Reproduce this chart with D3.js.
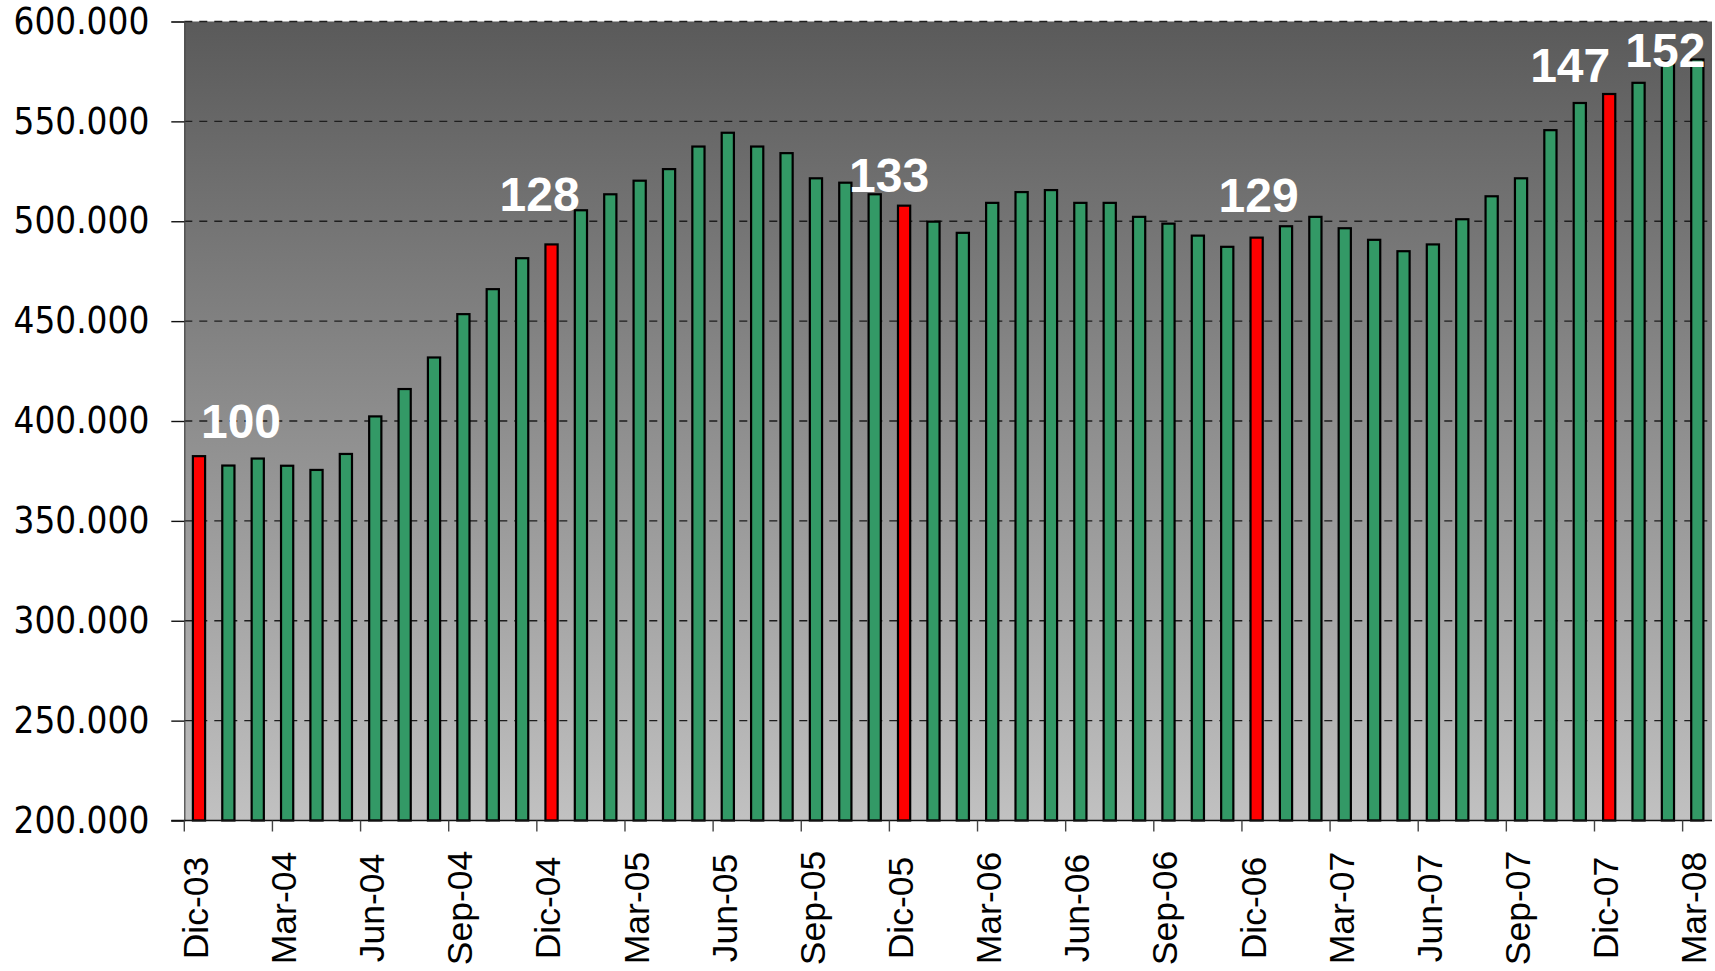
<!DOCTYPE html>
<html>
<head>
<meta charset="utf-8">
<script src="https://cdn.jsdelivr.net/npm/d3@7"></script>
<style>
  html, body { margin: 0; padding: 0; background: #ffffff; }
  svg { display: block; }
</style>
</head>
<body>
<svg id="chart" width="1715" height="971"></svg>
<script>
// Monthly series, Dic-03 .. Mar-08
const months = [
  "Dic-03",
  "Ene-04","Feb-04","Mar-04","Abr-04","May-04","Jun-04","Jul-04","Ago-04","Sep-04","Oct-04","Nov-04","Dic-04",
  "Ene-05","Feb-05","Mar-05","Abr-05","May-05","Jun-05","Jul-05","Ago-05","Sep-05","Oct-05","Nov-05","Dic-05",
  "Ene-06","Feb-06","Mar-06","Abr-06","May-06","Jun-06","Jul-06","Ago-06","Sep-06","Oct-06","Nov-06","Dic-06",
  "Ene-07","Feb-07","Mar-07","Abr-07","May-07","Jun-07","Jul-07","Ago-07","Sep-07","Oct-07","Nov-07","Dic-07",
  "Ene-08","Feb-08","Mar-08"
];

const values = [
  382400,
  377700, 381200, 377600, 375500, 383500, 402300, 416000, 431800, 453500, 466000, 481500, 488400,
  505500, 513500, 520300, 526100, 537400, 544300, 537400, 534100, 521500, 519300, 513500, 507800,
  499800, 494200, 509200, 514600, 515600, 509200, 509200, 502200, 498800, 492800, 487200, 491800,
  497500, 502200, 496500, 490700, 485000, 488400, 501000, 512500, 521500, 545600, 559200, 563700,
  569300, 580000, 581000
];

// December bars drawn in red
const highlighted = ["Dic-03", "Dic-04", "Dic-05", "Dic-06", "Dic-07"];

// Index labels (base Dic-03 = 100)
const indexed = ["Dic-03", "Dic-04", "Dic-05", "Dic-06", "Dic-07", "Mar-08"];

const tickLabels = [
  "Dic-03","Mar-04","Jun-04","Sep-04","Dic-04","Mar-05","Jun-05","Sep-05","Dic-05",
  "Mar-06","Jun-06","Sep-06","Dic-06","Mar-07","Jun-07","Sep-07","Dic-07","Mar-08"
];

const yTicks = [200000, 250000, 300000, 350000, 400000, 450000, 500000, 550000, 600000];

// ---- layout ----
const plot = { left: 184.3, right: 1712, top: 21.5, bottom: 820.5 };
// placement of each index label relative to its bar's top centre
const labelNudge = [[42, -18], [-12, -33], [-15, -14], [2, -26], [-39, -12], [-32, 8]];

const svg = d3.select("#chart");

const x = d3.scaleBand().domain(months).range([plot.left, plot.right]).padding(0);
const y = d3.scaleLinear().domain([200000, 600000]).range([plot.bottom, plot.top]);

const locale = d3.formatLocale({ decimal: ",", thousands: ".", grouping: [3], currency: ["", "€"] });
const fmt = locale.format(",");

// background gradient
const defs = svg.append("defs");
const grad = defs.append("linearGradient")
  .attr("id", "bg").attr("x1", 0).attr("y1", 0).attr("x2", 0).attr("y2", 1);
grad.append("stop").attr("offset", "0%").attr("stop-color", "#5a5a5a");
grad.append("stop").attr("offset", "100%").attr("stop-color", "#c1c1c1");

svg.append("rect")
  .attr("x", plot.left).attr("y", plot.top)
  .attr("width", plot.right - plot.left).attr("height", plot.bottom - plot.top)
  .attr("fill", "url(#bg)");

// dashed grid
svg.append("g")
  .selectAll("line")
  .data(yTicks.filter(v => v > 200000))
  .join("line")
  .attr("x1", plot.left).attr("x2", plot.right)
  .attr("y1", d => y(d)).attr("y2", d => y(d))
  .attr("stroke", "#1e1e1e").attr("stroke-width", 1.4)
  .attr("stroke-dasharray", "8,7");

// y axis
const yAxis = svg.append("g")
  .attr("transform", `translate(${plot.left},0)`)
  .call(d3.axisLeft(y).tickValues(yTicks).tickFormat(fmt).tickSize(13).tickPadding(22));
yAxis.select(".domain").attr("stroke", "#444").attr("stroke-width", 1.2);
yAxis.selectAll(".tick line").attr("stroke", "#111").attr("stroke-width", 1.4);
yAxis.selectAll(".tick text")
  .attr("fill", "#000")
  .style("font-family", "'DejaVu Sans Condensed', 'DejaVu Sans', sans-serif")
  .style("font-stretch", "condensed")
  .style("font-size", "36.5px");

// bars
const band = x.bandwidth();
const barW = 12.2;
svg.append("g")
  .selectAll("rect")
  .data(months.map((m, i) => ({ m, v: values[i] })))
  .join("rect")
  .attr("x", d => x(d.m) + (band - barW) / 2)
  .attr("y", d => y(d.v))
  .attr("width", barW)
  .attr("height", d => y(200000) - y(d.v))
  .attr("fill", d => highlighted.includes(d.m) ? "#ff0000" : "#339966")
  .attr("stroke", "#000")
  .attr("stroke-width", 2.2);

// x axis: line, ticks between quarters, rotated labels
svg.append("line")
  .attr("x1", plot.left - 13).attr("x2", plot.right)
  .attr("y1", plot.bottom).attr("y2", plot.bottom)
  .attr("stroke", "#111").attr("stroke-width", 1.5);

svg.append("g")
  .selectAll("line")
  .data(tickLabels)
  .join("line")
  .attr("x1", d => x(d)).attr("x2", d => x(d))
  .attr("y1", plot.bottom).attr("y2", plot.bottom + 11)
  .attr("stroke", "#444").attr("stroke-width", 1.4);

svg.append("g")
  .selectAll("text")
  .data(tickLabels)
  .join("text")
  .attr("transform", d => `translate(${x(d) + band / 2 - 3.5},908) rotate(-90)`)
  .attr("text-anchor", "middle")
  .attr("dy", "0.35em")
  .style("font-family", "'Liberation Sans', Arial, sans-serif")
  .style("font-size", "35.5px")
  .attr("fill", "#000")
  .text(d => d);

// index labels computed from the series
const base = values[months.indexOf("Dic-03")];
svg.append("g")
  .selectAll("text")
  .data(indexed)
  .join("text")
  .attr("x", (d, i) => x(d) + band / 2 + labelNudge[i][0])
  .attr("y", (d, i) => y(values[months.indexOf(d)]) + labelNudge[i][1])
  .attr("text-anchor", "middle")
  .style("font-family", "'Liberation Sans', Arial, sans-serif")
  .style("font-weight", "bold")
  .style("font-size", "48px")
  .attr("fill", "#ffffff")
  .text(d => Math.round(values[months.indexOf(d)] / base * 100));
</script>
</body>
</html>
